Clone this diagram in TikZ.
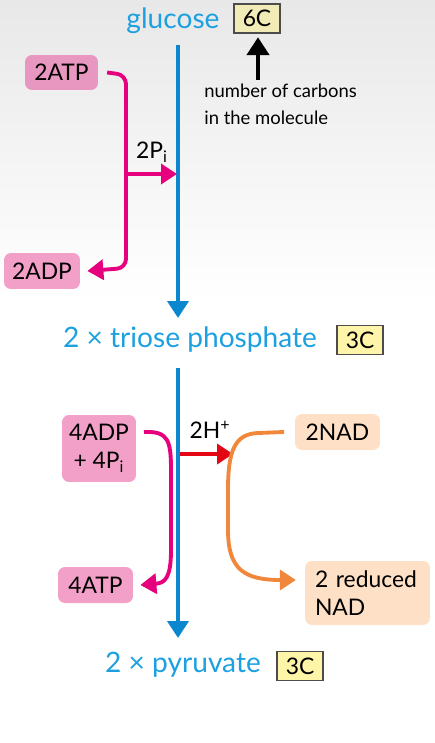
\documentclass[tikz,border=0pt]{standalone}
\usepackage{fontspec}
\setmainfont{Lato}
\usetikzlibrary{arrows.meta}

\definecolor{pathblue}{HTML}{0A87CF}
\definecolor{nameblue}{HTML}{1CA0E0}
\definecolor{atpline}{HTML}{E6007E}
\definecolor{atpbox}{HTML}{E897C0}
\definecolor{adpbox}{HTML}{F2A0C8}
\definecolor{hred}{HTML}{E30613}
\definecolor{nadline}{HTML}{F0873A}
\definecolor{nadbox}{HTML}{FDE0C6}
\definecolor{carbfill}{HTML}{FFF5A8}

\begin{document}
\begin{tikzpicture}[x=0.02cm,y=-0.02cm,
    molname/.style={text=nameblue,font=\fontsize{16}{19}\selectfont,inner sep=0pt},
    carbbox/.style={draw=black!70,line width=0.8pt,fill=carbfill,minimum width=0.92cm,minimum height=0.58cm,inner sep=0pt,font=\fontsize{13}{15}\selectfont},
    chembox/.style={rounded corners=0.14cm,inner sep=0pt,font=\fontsize{13}{16}\selectfont,align=center},
    pathway/.style={pathblue,line width=2.2pt,-{Triangle[width=0.42cm,length=0.34cm]}},
    atparrow/.style={atpline,line width=2.2pt,-{Triangle[width=0.4cm,length=0.32cm]}},
    nadarrow/.style={nadline,line width=2.2pt,-{Triangle[width=0.4cm,length=0.32cm]}}]
\useasboundingbox (0,0) rectangle (435,743);
\shade[top color=black!9,bottom color=white] (0,0) rectangle (435,300);

% molecules down the middle
\node[molname] (glucose) at (173,21) {glucose};
\node[carbbox,fill=carbfill!80!olive!60] (sixc) at (257,18.5) {6C};
\node[molname] (triose) at (190,340) {2 × triose phosphate};
\node[carbbox] (threec) at (360,340) {3C};
\node[molname] (pyruvate) at (183,665) {2 × pyruvate};
\node[carbbox] (threecb) at (300,666) {3C};

\coordinate (gtop) at (178,45);
\coordinate (gbot) at (178,318);
\coordinate (ttop) at (178,368);
\coordinate (tbot) at (178,638);
\draw[pathway] (gtop) -- (gbot);
\draw[pathway] (ttop) -- (tbot);

% note on the carbon box
\node[anchor=north west,align=left,inner sep=0pt,font=\fontsize{10.5}{15}\selectfont] (note) at (204,84) {number of carbons\\in the molecule};
\coordinate (notetip) at (258,80);
\draw[line width=2.8pt,-{Triangle[width=0.44cm,length=0.36cm]},shorten >=2pt] (notetip) -- (sixc.south -| notetip);

% ATP used
\node[chembox,fill=atpbox,minimum width=1.46cm,minimum height=0.7cm] (atpin) at (61.5,72.5) {2ATP};
\node[chembox,fill=adpbox,minimum width=1.52cm,minimum height=0.72cm] (adpout) at (42,271) {2ADP};
\draw[atparrow,rounded corners=0.18cm] ([xshift=5pt]atpin.east) -- (126,75) -- (126,268) -- ([xshift=4pt]adpout.east);
\coordinate (pifrom) at (127,174);
\coordinate (pito) at (177,174);
\draw[atparrow] (pifrom) -- (pito);
\node[font=\fontsize{13}{15}\selectfont] (pi) at (152,152) {2P\textsubscript{i}};

% ATP made
\node[chembox,fill=adpbox,minimum width=1.48cm,minimum height=1.34cm] (adpin) at (99,448.5) {4ADP\\+ 4P\textsubscript{i}};
\node[chembox,fill=adpbox,minimum width=1.5cm,minimum height=0.72cm] (atpout) at (95.5,585) {4ATP};
\draw[atparrow] (144,432) .. controls (168,431) and (171,440) .. (171,470) -- (171,550) .. controls (171,578) and (165,583) .. ([xshift=4pt]atpout.east);

% hydrogen to NAD
\coordinate (hfrom) at (180,454);
\coordinate (hto) at (233,454);
\draw[hred,line width=2.2pt,-{Triangle[width=0.4cm,length=0.32cm]}] (hfrom) -- (hto);
\node[font=\fontsize{13}{15}\selectfont] (hplus) at (210,430) {2H\textsuperscript{+}};
\node[chembox,fill=nadbox,minimum width=1.7cm,minimum height=0.72cm] (nad) at (337.5,432) {2NAD};
\node[chembox,fill=nadbox,minimum width=2.5cm,minimum height=1.28cm,align=left,text width=2.1cm] (nadh) at (367.5,593) {2 reduced\\NAD};
\draw[nadarrow] ([xshift=-6pt]nad.west) -- (258,433) .. controls (235,434) and (228,450) .. (228,490) -- (228,530) .. controls (228,570) and (245,580) .. ([xshift=-5pt]nadh.west |- 0,580);
\end{tikzpicture}
\end{document}
